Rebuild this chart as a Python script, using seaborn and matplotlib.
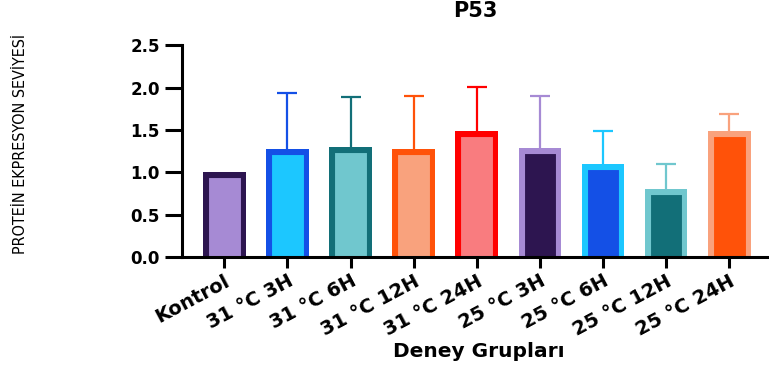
import numpy as np
import pandas as pd
import matplotlib
matplotlib.use("Agg")
import matplotlib.pyplot as plt
import matplotlib.transforms as mtransforms
import seaborn as sns

# ---- data ----
groups = ["Kontrol", "31 °C 3H", "31 °C 6H", "31 °C 12H", "31 °C 24H",
          "25 °C 3H", "25 °C 6H", "25 °C 12H", "25 °C 24H"]
means = [1.00, 1.275, 1.295, 1.27, 1.487, 1.287, 1.094, 0.806, 1.487]
err_upper = [0.0, 0.655, 0.59, 0.635, 0.516, 0.618, 0.396, 0.294, 0.203]
fill_colors = ["#A68AD4", "#1CC7FF", "#70C7CE", "#F9A27D", "#F97C7F",
               "#2D1550", "#1450E6", "#126F78", "#FF5209"]
edge_colors = ["#2D1550", "#1450E6", "#126F78", "#FF5209", "#FF0000",
               "#A68AD4", "#1CC7FF", "#70C7CE", "#F9A27D"]
y_ticks = [0.0, 0.5, 1.0, 1.5, 2.0, 2.5]
title = "P53"
xlabel = "Deney Grupları"
ylabel = "PROTEİN EKPRESYON SEVİYESİ"

df = pd.DataFrame({"grup": groups, "deger": means})

sns.set_theme(style="white")
plt.rcParams["font.family"] = ["DejaVu Sans"]
plt.rcParams["text.color"] = "black"
plt.rcParams["axes.labelcolor"] = "black"
plt.rcParams["xtick.color"] = "black"
plt.rcParams["ytick.color"] = "black"

fig = plt.figure(figsize=(7.69, 3.73), dpi=100)
ax = fig.add_axes([182 / 769, 1 - 257 / 373, 1 - 182 / 769, (257 - 45.2) / 373])

sns.barplot(data=df, x="grup", y="deger", hue="grup", palette=fill_colors,
            legend=False, width=0.677, errorbar=None, ax=ax, zorder=3,
            saturation=1)

# inner edges (GraphPad style): thick edge clipped to the bar itself
for patch, ec in zip(ax.patches, edge_colors):
    patch.set_edgecolor(ec)
    patch.set_linewidth(8.0)
    h = patch.get_height()
    patch.set_y(-0.2)          # push the bottom edge below the axis (clipped)
    patch.set_height(h + 0.2)
    patch.set_clip_path(patch.get_path(), patch.get_transform())

xpos = np.arange(len(groups))
for i in range(len(groups)):
    if err_upper[i] > 0:
        _, caps, _ = ax.errorbar(xpos[i], means[i], yerr=[[0], [err_upper[i]]],
                                 fmt="none", ecolor=edge_colors[i],
                                 elinewidth=1.6, capsize=7.5, capthick=1.6,
                                 zorder=2)
        caps[0].set_visible(False)

ax.set_ylim(0, 2.5)
ax.set_xlim(-0.67, 8.63)
ax.set_yticks(y_ticks)
ax.set_yticklabels([f"{v:.1f}" for v in y_ticks], fontsize=12, fontweight="bold")
ax.set_xticks(xpos)

for s in ["top", "right"]:
    ax.spines[s].set_visible(False)
for s in ["left", "bottom"]:
    ax.spines[s].set_color("black")
    ax.spines[s].set_linewidth(2.2)
    ax.spines[s].set_zorder(5)
ax.tick_params(axis="y", which="major", direction="out", length=12, width=2.2,
               color="black", pad=4, left=True)
ax.tick_params(axis="x", which="major", direction="out", length=8, width=2.2,
               color="black", pad=4, bottom=True)

ax.set_xticklabels(groups, fontsize=14, fontweight="bold", rotation=28,
                   ha="right", va="top", rotation_mode="anchor")
offset = mtransforms.ScaledTranslation(0, 2 / 100, fig.dpi_scale_trans)
for lab in ax.get_xticklabels():
    lab.set_transform(lab.get_transform() + offset)

ax.set_title(title, fontsize=15, fontweight="bold", pad=20, color="black")
ax.set_xlabel(xlabel, fontsize=14.5, fontweight="bold")
ax.xaxis.set_label_coords(0.506, -0.40)
ax.set_ylabel(ylabel, fontsize=11.5, family=["DejaVu Sans"],
              fontstretch="condensed")
ax.yaxis.set_label_coords(-0.262, 0.534)

fig.savefig("out.png", dpi=100)
